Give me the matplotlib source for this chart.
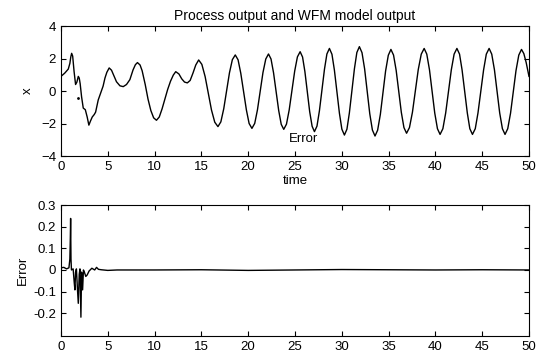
import matplotlib
matplotlib.use('Agg')
import matplotlib.pyplot as plt

plt.rcParams['font.family'] = ['Liberation Sans', 'DejaVu Sans']
plt.rcParams['font.size'] = 9

# process / model output
time_x = [0, 0.4, 0.78, 0.95, 1.05, 1.14, 1.25, 1.4, 1.56, 1.7, 1.85, 1.95, 2.05,
          2.2, 2.38, 2.6, 2.8, 2.98, 3.15, 3.34, 3.55, 3.7, 3.98, 4.25, 4.5, 4.7,
          4.9, 5.15, 5.4, 5.65, 5.93, 6.3, 6.65, 7.0, 7.36, 7.7, 7.95, 8.17, 8.45,
          8.67, 9.0, 9.3, 9.6, 9.9, 10.2, 10.5, 10.8, 11.1, 11.4, 11.7, 12.0,
          12.26, 12.6, 12.9, 13.2, 13.5, 13.8, 14.1, 14.4, 14.71,
          15.05, 15.40, 15.74, 16.08, 16.43, 16.77,
          17.08, 17.39, 17.70, 18.00, 18.31, 18.62,
          18.92, 19.21, 19.51, 19.81, 20.10, 20.40,
          20.70, 20.99, 21.29, 21.58, 21.88, 22.17,
          22.44, 22.71, 22.99, 23.26, 23.53, 23.80,
          24.09, 24.38, 24.68, 24.97, 25.26, 25.55,
          25.81, 26.06, 26.32, 26.57, 26.83, 27.08,
          27.35, 27.61, 27.88, 28.15, 28.41, 28.68,
          28.95, 29.21, 29.48, 29.75, 30.01, 30.28,
          30.55, 30.81, 31.08, 31.35, 31.61, 31.88,
          32.16, 32.44, 32.72, 32.99, 33.27, 33.55,
          33.83, 34.12, 34.40, 34.68, 34.97, 35.25,
          35.53, 35.81, 36.09, 36.36, 36.64, 36.92,
          37.23, 37.55, 37.86, 38.17, 38.49, 38.80,
          39.08, 39.37, 39.65, 39.93, 40.22, 40.50,
          40.80, 41.10, 41.40, 41.70, 42.00, 42.30,
          42.58, 42.85, 43.13, 43.41, 43.68, 43.96,
          44.26, 44.55, 44.85, 45.15, 45.44, 45.74,
          46.02, 46.31, 46.59, 46.87, 47.16, 47.44,
          47.73, 48.03, 48.32, 48.61, 48.91, 49.20,
          49.45, 49.7, 50.0]
output_x = [0.9, 1.1, 1.35, 1.7, 2.1, 2.32, 2.15, 1.2, 0.4, 0.55, 0.9, 0.8, 0.45,
            -0.35, -1.05, -1.15, -1.6, -2.1, -1.85, -1.6, -1.45, -1.3, -0.55, -0.1,
            0.3, 0.8, 1.15, 1.42, 1.28, 0.95, 0.57, 0.32, 0.27, 0.4, 0.7, 1.3, 1.62,
            1.75, 1.6, 1.25, 0.4, -0.5, -1.2, -1.65, -1.8, -1.6, -1.1, -0.5, 0.1,
            0.6, 0.98, 1.19, 1.05, 0.75, 0.55, 0.5, 0.65, 1.1, 1.6, 1.91,
            1.64, 0.89, -0.14, -1.17, -1.92, -2.19,
            -1.90, -1.09, 0.02, 1.12, 1.93, 2.22,
            1.92, 1.09, -0.04, -1.17, -2.00, -2.30,
            -1.99, -1.16, -0.01, 1.14, 1.97, 2.28,
            1.97, 1.12, -0.04, -1.20, -2.05, -2.36,
            -2.04, -1.17, 0.03, 1.23, 2.10, 2.42,
            2.09, 1.19, -0.04, -1.27, -2.17, -2.50,
            -2.16, -1.22, 0.06, 1.34, 2.28, 2.62,
            2.26, 1.29, -0.05, -1.38, -2.35, -2.71,
            -2.35, -1.35, 0.01, 1.37, 2.37, 2.73,
            2.36, 1.36, -0.02, -1.40, -2.40, -2.77,
            -2.41, -1.44, -0.11, 1.23, 2.20, 2.56,
            2.21, 1.27, -0.02, -1.31, -2.25, -2.60,
            -2.25, -1.30, 0.01, 1.32, 2.27, 2.62,
            2.27, 1.30, -0.03, -1.35, -2.32, -2.67,
            -2.32, -1.35, -0.03, 1.30, 2.27, 2.62,
            2.27, 1.30, -0.03, -1.35, -2.32, -2.67,
            -2.32, -1.35, -0.03, 1.30, 2.27, 2.62,
            2.27, 1.30, -0.03, -1.35, -2.32, -2.67,
            -2.32, -1.36, -0.06, 1.25, 2.21, 2.56,
            2.30, 1.75, 0.9]

# stray model output sample visible near t = 1.85
stray_t = [1.85]
stray_x = [-0.45]

# error signal, lower panel
time_e = [0, 0.3, 0.6, 0.85, 0.95, 1.0, 1.03, 1.07, 1.12, 1.3, 1.42, 1.49, 1.56,
          1.65, 1.75, 1.85, 1.95, 2.03, 2.13, 2.2, 2.31, 2.4, 2.5, 2.65, 2.8, 3.0,
          3.3, 3.6, 3.8, 4.0, 4.3, 5, 6, 10, 15, 20, 25, 30, 35, 40, 45, 50]
error = [0.01, 0.012, 0.005, 0.01, 0.05, 0.15, 0.238, 0.05, 0.0, 0.005, -0.06,
         -0.092, -0.01, 0.005, -0.08, -0.154, -0.02, 0.005, -0.218, -0.01, -0.092,
         0.0, -0.01, -0.03, -0.023, -0.005, 0.008, 0.0, 0.012, 0.003, 0.001,
         -0.002, 0.0, 0.0, 0.001, -0.002, 0.0, 0.002, 0.001, 0.0, 0.001, 0.0]

xticks = [0, 5, 10, 15, 20, 25, 30, 35, 40, 45, 50]
top_yticks = [-4, -2, 0, 2, 4]
bottom_yticks = [-0.2, -0.1, 0, 0.1, 0.2, 0.3]
bottom_yticklabels = ['-0.2', '-0.1', '0', '0.1', '0.2', '0.3']


def style_axes(ax):
    ax.tick_params(direction='in', top=True, right=True, length=3.5, width=0.8,
                   labelsize=9.5, pad=3.5)
    for sp in ax.spines.values():
        sp.set_linewidth(0.8)
        sp.set_color('black')


fig = plt.figure(figsize=(5.42, 3.54), dpi=100)

ax1 = fig.add_axes([0.1125, 0.5593, 0.8635, 0.3672])
ax1.plot(time_x, output_x, color='black', lw=1.0)
ax1.plot(stray_t, stray_x, 'k.', ms=2)
ax1.set_xlim(0, 50)
ax1.set_ylim(-4, 4)
ax1.set_xticks(xticks)
ax1.set_yticks(top_yticks)
ax1.set_title('Process output and WFM model output', fontsize=10, pad=4)
ax1.set_xlabel('time', fontsize=9.5, labelpad=1.5)
ax1.set_ylabel('x', fontsize=9.5, labelpad=5)
ax1.text(24.3, -2.95, 'Error', fontsize=9.5, va='center', ha='left')
style_axes(ax1)

ax2 = fig.add_axes([0.1125, 0.0508, 0.8635, 0.3701])
ax2.plot(time_e, error, color='black', lw=1.0)
ax2.set_xlim(0, 50)
ax2.set_ylim(-0.305, 0.3)
ax2.set_xticks(xticks)
ax2.set_yticks(bottom_yticks)
ax2.set_yticklabels(bottom_yticklabels)
ax2.set_ylabel('Error', fontsize=9.5, labelpad=3)
style_axes(ax2)

fig.savefig('out.png', dpi=100)
